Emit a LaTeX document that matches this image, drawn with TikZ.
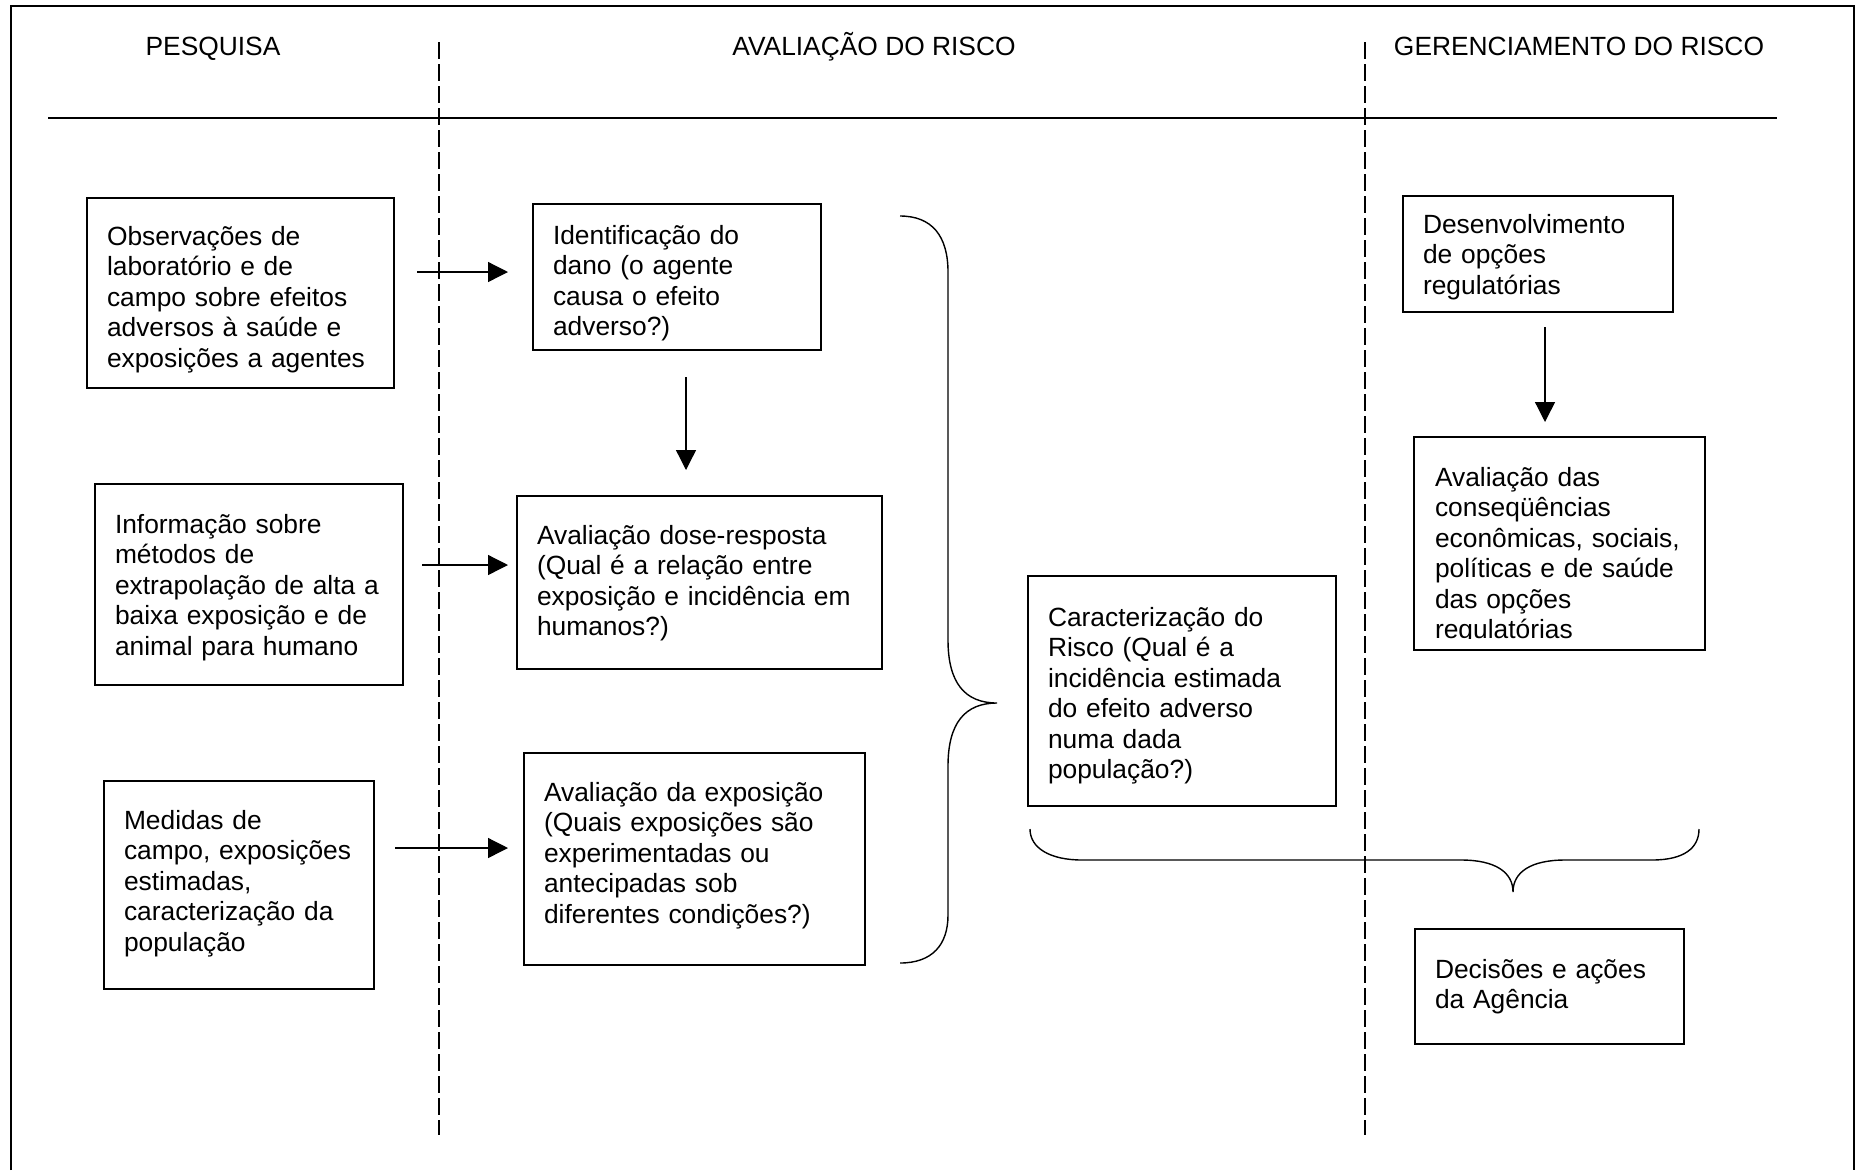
\documentclass[tikz,border=0pt]{standalone}
\usepackage{fontspec}
\setmainfont{Liberation Sans}
\usetikzlibrary{arrows.meta}

\tikzset{
    stage/.style={draw, line width=0.4mm, anchor=north west, align=left,
        inner xsep=4mm, inner ysep=0pt, font=\fontsize{15pt}{17.4pt}\selectfont},
    head/.style={anchor=base, font=\fontsize{15pt}{17.4pt}\selectfont},
    arr/.style={-{Triangle[length=4mm,width=4mm]}, line width=0.26mm},
    lane/.style={dash pattern=on 3.4mm off 1mm, line width=0.26mm},
    brace/.style={line width=0.28mm}
}

\begin{document}
\begin{tikzpicture}[x=0.2mm, y=-0.2mm]
        \useasboundingbox (0,0) rectangle (1860,1170);

        % Frame
        \draw[line width=0.4mm] (11,1170) -- (11,6) -- (1854,6) -- (1854,1170);

        % Columns
        \node[head] (hdPesq) at (213,55) {PESQUISA};
        \node[head] (hdAval) at (874,55) {AVALIAÇÃO DO RISCO};
        \node[head] (hdGer) at (1579,55) {GERENCIAMENTO DO RISCO};
        \draw[line width=0.3mm] (48,118) -- (1777,118);
        \draw[lane] (439,42) -- (439,1135);
        \draw[lane] (1365,42) -- (1365,1135);

        % Pesquisa
        \node[stage, text width=53.4mm, text height=9.4mm, text depth=28.6mm] (obs) at (86,197)
            {Observações de\\laboratório e de\\campo sobre efeitos\\adversos à saúde e\\exposições a agentes};
        \node[stage, text width=53.6mm, text height=9.8mm, text depth=30.4mm] (info) at (94,483)
            {Informação sobre\\métodos de\\extrapolação de alta a\\baixa exposição e de\\animal para humano};
        \node[stage, text width=46mm, text height=9.6mm, text depth=32mm] (medidas) at (103,780)
            {Medidas de\\campo, exposições\\estimadas,\\caracterização da\\população};

        % Avaliacao do risco
        \node[stage, text width=49.6mm, text height=8mm, text depth=21.2mm] (ident) at (532,203)
            {Identificação do\\dano (o agente\\causa o efeito\\adverso?)};
        \node[stage, text width=65mm, text height=9.6mm, text depth=25mm] (dose) at (516,495)
            {Avaliação dose-resposta\\(Qual é a relação entre\\exposição e incidência em\\humanos?)};
        \node[stage, text width=60.2mm, text height=9.6mm, text depth=32.8mm] (expo) at (523,752)
            {Avaliação da exposição\\(Quais exposições são\\experimentadas ou\\antecipadas sob\\diferentes condições?)};
        \node[stage, text width=53.6mm, text height=10mm, text depth=36mm] (carac) at (1027,575)
            {Caracterização do\\Risco (Qual é a\\incidência estimada\\do efeito adverso\\numa dada\\população?)};

        % Gerenciamento do risco
        \node[stage, text width=46mm, text height=7.4mm, text depth=15.8mm] (desenv) at (1402,195)
            {Desenvolvimento\\de opções\\regulatórias};
        \begin{scope}
            \clip (1400,430) rectangle (1710,638);
            \node[stage, draw=none, text width=49.8mm, text height=9.6mm, text depth=32.6mm] (conseq) at (1414,437)
                {Avaliação das\\conseqüências\\econômicas, sociais,\\políticas e de saúde\\das opções\\regulatórias};
        \end{scope}
        \draw[line width=0.4mm] (conseq.north west) rectangle (conseq.south east);
        \node[stage, text width=45.8mm, text height=9.8mm, text depth=13.2mm] (decis) at (1414,928)
            {Decisões e ações\\da Agência};

        % Arrows
        \draw[arr, shorten <=4.4mm, shorten >=4.8mm] (obs.east |- 0,272) -- (ident.west |- 0,272);
        \draw[arr, shorten <=3.6mm, shorten >=1.6mm] (info.east |- 0,565) -- (dose.west |- 0,565);
        \draw[arr, shorten <=4mm, shorten >=3mm] (medidas.east |- 0,848) -- (expo.west |- 0,848);
        \draw[arr, shorten <=5.2mm, shorten >=5mm] (686,0 |- ident.south) -- (686,0 |- dose.north);
        \draw[arr, shorten <=2.8mm, shorten >=3mm] (1545,0 |- desenv.south) -- (1545,0 |- conseq.north);

        % Braces
        \draw[brace] (900,216) .. controls (932,216) and (948,236) .. (948,272) -- (948,640)
            .. controls (948,683) and (965,703) .. (997,703)
            .. controls (965,703) and (948,723) .. (948,766) -- (948,915)
            .. controls (948,945) and (932,963) .. (900,963);
        \draw[brace] (1030,829) .. controls (1030,848) and (1050,860) .. (1082,860) -- (1461,860)
            .. controls (1495,860) and (1513,872) .. (1513,892)
            .. controls (1513,872) and (1531,860) .. (1565,860) -- (1652,860)
            .. controls (1684,860) and (1699,848) .. (1699,829);
    \end{tikzpicture}
\end{document}
